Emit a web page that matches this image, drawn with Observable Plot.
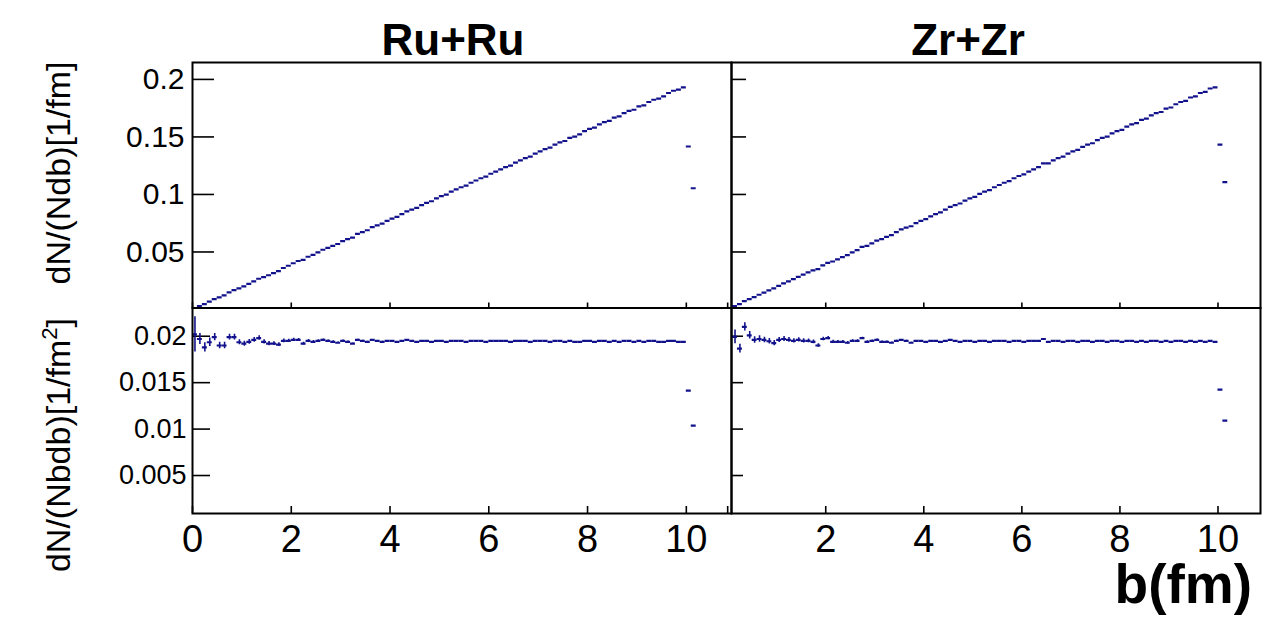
<!DOCTYPE html>
<html><head><meta charset="utf-8">
<script src="https://cdn.jsdelivr.net/npm/d3@7"></script>
<script src="https://cdn.jsdelivr.net/npm/@observablehq/plot@0.6"></script>
<style>
html,body{margin:0;padding:0;background:#fff;}
#wrap{position:relative;width:1262px;height:617px;overflow:hidden;font-family:"Liberation Sans",Arial,Helvetica,sans-serif;background:#fff;}
#wrap svg{position:absolute;left:0;top:0;}
.t{position:absolute;white-space:nowrap;color:#000;line-height:1;}
</style></head><body><div id="wrap"></div>
<script>
// impact-parameter bin centres (fm), 0.1 fm bins
const binCenters = [0.05,0.15,0.25,0.35,0.45,0.55,0.65,0.75,0.85,0.95,
1.05,1.15,1.25,1.35,1.45,1.55,1.65,1.75,1.85,1.95,
2.05,2.15,2.25,2.35,2.45,2.55,2.65,2.75,2.85,2.95,
3.05,3.15,3.25,3.35,3.45,3.55,3.65,3.75,3.85,3.95,
4.05,4.15,4.25,4.35,4.45,4.55,4.65,4.75,4.85,4.95,
5.05,5.15,5.25,5.35,5.45,5.55,5.65,5.75,5.85,5.95,
6.05,6.15,6.25,6.35,6.45,6.55,6.65,6.75,6.85,6.95,
7.05,7.15,7.25,7.35,7.45,7.55,7.65,7.75,7.85,7.95,
8.05,8.15,8.25,8.35,8.45,8.55,8.65,8.75,8.85,8.95,
9.05,9.15,9.25,9.35,9.45,9.55,9.65,9.75,9.85,9.95,
10.05,10.15];

// dN/(N db) [1/fm]
const ruTop = [0.00101,0.00296,0.0047,0.00677,0.00896,0.01045,0.01235,0.01493,0.01692,0.01838,
0.02016,0.02231,0.0245,0.02673,0.02813,0.02976,0.03168,0.03343,0.03608,0.03803,
0.04018,0.04214,0.0432,0.04583,0.04753,0.04973,0.05194,0.05363,0.05529,0.05694,
0.05948,0.06111,0.0624,0.06566,0.06728,0.06887,0.07154,0.07313,0.07469,0.07703,
0.07898,0.08051,0.08288,0.08526,0.08678,0.08827,0.09068,0.09263,0.09409,0.09653,
0.09848,0.09991,0.10238,0.10433,0.10628,0.10767,0.11018,0.11213,0.11408,0.11543,
0.11798,0.11993,0.12188,0.12383,0.12513,0.12773,0.12968,0.13163,0.13289,0.13553,
0.13748,0.13943,0.14065,0.14333,0.14528,0.14647,0.14918,0.15035,0.15229,0.15503,
0.15698,0.15811,0.16088,0.16283,0.16393,0.16673,0.16781,0.17063,0.17258,0.17363,
0.17648,0.17751,0.18038,0.18233,0.18333,0.18527,0.18818,0.19013,0.19109,0.19303,
0.1417,0.1054];

const zrTop = [0.0010,0.00299,0.00467,0.00735,0.00905,0.01078,0.01281,0.0147,0.01654,0.01829,
0.02058,0.02266,0.0245,0.02633,0.02842,0.03023,0.03218,0.03395,0.03515,0.03842,
0.04059,0.04171,0.04365,0.04559,0.04729,0.04973,0.05168,0.05445,0.05529,0.05753,
0.05978,0.06111,0.06305,0.06466,0.06728,0.06958,0.07118,0.07238,0.07508,0.07703,
0.07857,0.08093,0.08288,0.08439,0.08678,0.08918,0.09068,0.09215,0.09458,0.09653,
0.09797,0.10043,0.10238,0.10379,0.10628,0.10823,0.11018,0.11155,0.11408,0.11603,
0.11737,0.11993,0.12188,0.12383,0.12707,0.12707,0.12968,0.13163,0.13289,0.13553,
0.13748,0.13871,0.14138,0.14333,0.14453,0.14723,0.14918,0.15035,0.15308,0.15503,
0.15617,0.15893,0.16088,0.16199,0.16478,0.16587,0.16868,0.17063,0.17169,0.17453,
0.17557,0.17843,0.18038,0.18139,0.18428,0.18527,0.18818,0.18915,0.19208,0.19303,
0.1433,0.1108];

// dN/(N b db) [1/fm^2]
const ruRatio = [0.0202,0.0197,0.0188,0.01935,0.0199,0.0190,0.0190,0.0199,0.0199,0.01935,
0.0192,0.0194,0.0196,0.0198,0.0194,0.0192,0.0192,0.0191,0.0195,0.0195,
0.0196,0.0196,0.0192,0.0195,0.0194,0.0195,0.0196,0.0195,0.0194,0.0193,
0.0195,0.0194,0.0192,0.0196,0.0195,0.0194,0.0196,0.0195,0.0194,0.0195,
0.0195,0.0194,0.0195,0.0196,0.0195,0.0194,0.0195,0.0195,0.0194,0.0195,
0.0195,0.0194,0.0195,0.0195,0.0195,0.0194,0.0195,0.0195,0.0195,0.0194,
0.0195,0.0195,0.0195,0.0195,0.0194,0.0195,0.0195,0.0195,0.0194,0.0195,
0.0195,0.0195,0.0194,0.0195,0.0195,0.0194,0.0195,0.0194,0.0194,0.0195,
0.0195,0.0194,0.0195,0.0195,0.0194,0.0195,0.0194,0.0195,0.0195,0.0194,
0.0195,0.0194,0.0195,0.0195,0.0194,0.0194,0.0195,0.0195,0.0194,0.0194,
0.01415,0.01038];

const zrRatio = [0.0200,0.01993,0.01867,0.0210,0.0201,0.0196,0.0197,0.0196,0.01946,0.01925,
0.0196,0.0197,0.0196,0.0195,0.0196,0.0195,0.0195,0.0194,0.0190,0.0197,
0.0198,0.0194,0.0194,0.0194,0.0193,0.0195,0.0195,0.0198,0.0194,0.0195,
0.0196,0.0194,0.0194,0.0193,0.0195,0.0196,0.0195,0.0193,0.0195,0.0195,
0.0194,0.0195,0.0195,0.0194,0.0195,0.0196,0.0195,0.0194,0.0195,0.0195,
0.0194,0.0195,0.0195,0.0194,0.0195,0.0195,0.0195,0.0194,0.0195,0.0195,
0.0194,0.0195,0.0195,0.0195,0.0197,0.0194,0.0195,0.0195,0.0194,0.0195,
0.0195,0.0194,0.0195,0.0195,0.0194,0.0195,0.0195,0.0194,0.0195,0.0195,
0.0194,0.0195,0.0195,0.0194,0.0195,0.0194,0.0195,0.0195,0.0194,0.0195,
0.0194,0.0195,0.0195,0.0194,0.0195,0.0194,0.0195,0.0194,0.0195,0.0194,
0.01426,0.01092];

// statistical errors of the ratio (first bins; the rest are negligible)
const ruRatioErr = [0.0019,0.0006,0.0005,0.00045,0.0004,0.00035,0.00035,0.0003,0.0003,0.00028,
0.00027,0.00026,0.00025,0.00024,0.00023,0.00022,0.00021,0.0002,0.00019,0.00018,
0.00017,0.00016,0.00015,0.00014,0.00013,0.00012,0.00011,0.0001,0.0001,0.00009,
0.00009,0.00008,0.00008,0.00007,0.00007,0.00006,0.00006,0.00005,0.00005,0.00005];
const zrRatioErr = [0.0016,0.00075,0.00047,0.00045,0.0004,0.00035,0.00035,0.0003,0.0003,0.00028,
0.00027,0.00026,0.00025,0.00024,0.00023,0.00022,0.00021,0.0002,0.00019,0.00018,
0.00017,0.00016,0.00015,0.00014,0.00013,0.00012,0.00011,0.0001,0.0001,0.00009,
0.00009,0.00008,0.00008,0.00007,0.00007,0.00006,0.00006,0.00005,0.00005,0.00005];

const xTicksAll = [0,2,4,6,8,10];
const xLabelsLeft = [0,2,4,6,8,10];
const xLabelsRight = [2,4,6,8,10];
const yTicksTop = [0.05,0.1,0.15,0.2];
const yTicksBottom = [0.005,0.01,0.015,0.02];
const panelTitles = ["Ru+Ru","Zr+Zr"];
const xTitle = "b(fm)";

const W = 1262, H = 617;
const ink = "#12128c";
const binHalf = 0.05;

function panel(o) {
  const rows = binCenters.map((b, i) => ({b, v: o.values[i], e: o.errs ? (o.errs[i] || 0) : 0}));
  const pw = o.x1 - o.x0, ph = o.y1 - o.y0;
  const marks = [
    Plot.ruleY(o.yTicks, {stroke: "black", strokeWidth: 1.6, insetRight: pw - o.yTickLen}),
    Plot.ruleX(xTicksAll, {stroke: "black", strokeWidth: 1.6, insetTop: ph - o.xTickLen}),
    Plot.ruleY(rows, {y: "v", x1: d => d.b - binHalf, x2: d => d.b + binHalf, stroke: ink, strokeWidth: 2.2, clip: true}),
    Plot.ruleX(rows.filter(d => d.e > 0), {x: "b", y1: d => d.v - d.e, y2: d => d.v + d.e, stroke: ink, strokeWidth: 1.6, clip: true}),
    Plot.frame({stroke: "black", strokeWidth: 2})
  ];
  if (o.yLabels) marks.push(Plot.axisY(o.yTicks, {tickSize: 0, tickPadding: o.yPad, fontSize: o.yFont, tickFormat: d => String(d), label: null}));
  if (o.xLabels) marks.push(Plot.axisX(o.xLabels, {tickSize: 0, tickPadding: 12, fontSize: 38, tickFormat: d => String(d), label: null}));
  return Plot.plot({
    width: W, height: H,
    marginLeft: o.x0, marginRight: W - o.x1, marginTop: o.y0, marginBottom: H - o.y1,
    style: {fontFamily: "Liberation Sans, Arial, Helvetica, sans-serif", background: "transparent", color: "black", overflow: "visible"},
    x: {domain: o.xDomain, axis: o.xLabels ? undefined : null, label: null},
    y: {domain: o.yDomain, axis: o.yLabels ? undefined : null, label: null},
    marks
  });
}

const wrap = document.getElementById("wrap");
const topY = [0.0013, 0.2147], botY = [0.00091, 0.02304];
const leftX = [0, 10.915], rightX = [0.078, 10.867];
wrap.append(panel({x0: 192, x1: 731, y0: 62, y1: 307.5, xDomain: leftX, yDomain: topY, values: ruTop, yTicks: yTicksTop, yLabels: true, yFont: 30, yPad: 8, yTickLen: 22, xTickLen: 5}));
wrap.append(panel({x0: 731, x1: 1260, y0: 62, y1: 307.5, xDomain: rightX, yDomain: topY, values: zrTop, yTicks: yTicksTop, yLabels: false, yTickLen: 15, xTickLen: 5}));
wrap.append(panel({x0: 192, x1: 731, y0: 307.5, y1: 513, xDomain: leftX, yDomain: botY, values: ruRatio, errs: ruRatioErr, yTicks: yTicksBottom, yLabels: true, yFont: 27, yPad: 6, yTickLen: 18, xTickLen: 7, xLabels: xLabelsLeft}));
wrap.append(panel({x0: 731, x1: 1260, y0: 307.5, y1: 513, xDomain: rightX, yDomain: botY, values: zrRatio, errs: zrRatioErr, yTicks: yTicksBottom, yLabels: false, yTickLen: 12, xTickLen: 7, xLabels: xLabelsRight}));

function addText(html, css) {
  const d = document.createElement("div");
  d.className = "t";
  d.innerHTML = html;
  Object.assign(d.style, css);
  wrap.append(d);
}
addText(panelTitles[0], {left: "453px", top: "18px", fontSize: "44px", fontWeight: "bold", transform: "translateX(-50%)"});
addText(panelTitles[1], {left: "968px", top: "18px", fontSize: "44px", fontWeight: "bold", transform: "translateX(-50%)"});
addText(xTitle, {right: "10px", top: "562px", fontSize: "55px", fontWeight: "bold", lineHeight: "0.8"});
addText("dN/(Ndb)[1/fm]", {left: "58px", top: "173px", fontSize: "34px", transform: "translate(-50%,-50%) rotate(-90deg)"});
addText("dN/(Nbdb)[1/fm<sup style=\"font-size:0.65em;vertical-align:0.6em;line-height:0\">2</sup>]", {left: "58px", top: "445px", fontSize: "34px", transform: "translate(-50%,-50%) rotate(-90deg)"});
</script></body></html>
